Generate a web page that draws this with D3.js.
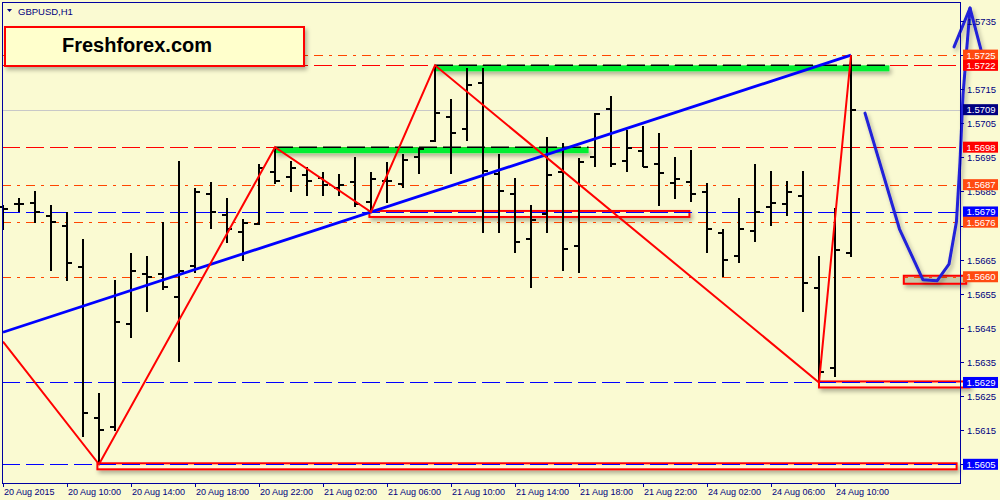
<!DOCTYPE html>
<html>
<head>
<meta charset="utf-8">
<script src="https://cdn.jsdelivr.net/npm/d3@7"></script>
<style>
  body { margin: 0; background: #fafad2; }
  svg { display: block; }
  text { font-family: "Liberation Sans", Arial, sans-serif; }
</style>
</head>
<body>
<script>
// GBPUSD H1 bars, 20 Aug 06:00 .. 24 Aug 11:00 (weekend skipped)
const opens = [1.56805,1.56814,1.56816,1.56778,1.56749,1.56629,1.56186,1.56159,1.56461,1.56608,
  1.56608,1.56541,1.56632,1.56843,1.56781,1.56731,1.56755,1.56907,1.56893,1.56898,
  1.5689,1.5686,1.56878,1.56819,1.56882,1.56872,1.56951,1.56997,1.57069,1.57033,
  1.57168,1.56901,1.56843,1.56711,1.56784,1.56907,1.5669,1.56951,1.57092,1.56939,
  1.56969,1.56931,1.56875,1.56878,1.56849,1.56728,1.56661,1.56734,1.56805,1.56813,
  1.56837,1.56567,1.56332,1.5667];
const highs = [1.5681,1.56831,1.56852,1.5681,1.5679,1.56711,1.56259,1.56591,1.5667,1.56661,
  1.56761,1.56939,1.5686,1.56878,1.56831,1.56769,1.56931,1.5698,1.56939,1.56922,
  1.56907,1.56901,1.56951,1.56907,1.56937,1.5696,1.56978,1.5722,1.57121,1.57212,
  1.57212,1.5696,1.5689,1.5681,1.5701,1.56992,1.56948,1.5708,1.5713,1.5703,
  1.57042,1.57022,1.56951,1.56972,1.56875,1.5674,1.56831,1.56931,1.5691,1.56881,
  1.5691,1.56661,1.56802,1.5725];
const lows = [1.56737,1.5679,1.56758,1.56617,1.56588,1.5613,1.5605,1.56148,1.5642,1.56497,
  1.56561,1.5635,1.56611,1.5674,1.56699,1.56646,1.56752,1.56872,1.56849,1.56837,
  1.56837,1.56837,1.56805,1.5679,1.56816,1.5686,1.56901,1.56996,1.56901,1.56998,
  1.56728,1.56728,1.5667,1.56567,1.56728,1.56617,1.56611,1.56922,1.56922,1.56907,
  1.56922,1.56808,1.56828,1.56819,1.5667,1.56599,1.5664,1.56702,1.56749,1.56778,
  1.56497,1.5629,1.56306,1.56658];
const closes = [1.56799,1.56812,1.5679,1.56761,1.5664,1.562,1.56151,1.56467,1.56617,1.56599,
  1.5657,1.56617,1.56849,1.5679,1.5674,1.56758,1.56919,1.56881,1.56919,1.56881,
  1.56869,1.56869,1.56813,1.56887,1.5688,1.56942,1.56976,1.5708,1.57022,1.57162,
  1.5691,1.56852,1.56702,1.56766,1.56898,1.56681,1.56937,1.57078,1.56931,1.56978,
  1.56923,1.56904,1.56887,1.56843,1.5674,1.56649,1.5674,1.5679,1.56816,1.56849,
  1.56582,1.56321,1.56678,1.5709];

const priceTicks = [1.5735,1.5725,1.5715,1.5705,1.5695,1.5685,1.5675,1.5665,1.5655,1.5645,1.5635,1.5625,1.5615,1.5605];
const timeTickIdx = [0,4,8,12,16,20,24,28,32,36,40,44,48,52];
const timeTickLabels = ["20 Aug 2015","20 Aug 10:00","20 Aug 14:00","20 Aug 18:00","20 Aug 22:00",
  "21 Aug 02:00","21 Aug 06:00","21 Aug 10:00","21 Aug 14:00","21 Aug 18:00","21 Aug 22:00",
  "24 Aug 02:00","24 Aug 06:00","24 Aug 10:00"];

// horizontal levels and their kind
const levelPrices = [1.5725,1.5722,1.5709,1.5698,1.5687,1.5679,1.5676,1.5660,1.5629,1.5605];
const levelKinds = ["dashdot","dash","current","dash","dashdot","support","dashdot","dashdot","support","support"];

// zigzag pivots (bar index, price)
const zigzagIdx = [0, 6, 17, 23, 27, 51, 53];
const zigzagPrice = [1.5641, 1.5605, 1.5698, 1.5679, 1.5722, 1.5629, 1.5725];

// trend line anchors
const trendIdx = [23, 53];
const trendPrice = [1.5679, 1.5725];

// green resistance zones
const greenFrom = [17, 27];
const greenTo = [36.6, 55.4];
const greenPrice = [1.5698, 1.5722];

// red support boxes
const boxFrom = [22.9, 5.9, 51, 56.3];
const boxTo = [42.9, 59.6, 60.4, 60.2];
const boxPrice = [1.5679, 1.5605, 1.5629, 1.5660];

// hand drawn forecast path
const projIdx = [53.875, 56.03, 57.5, 58.375, 59.125, 59.59, 59.81, 60.0, 60.44];
const projPrice = [1.5708, 1.5674, 1.56591, 1.56588, 1.56637, 1.56761, 1.56934, 1.57133, 1.57388];
const arrowIdx = [59.44, 60.44, 61.125];
const arrowPrice = [1.57274, 1.57388, 1.57265];

const styles = {
  dash:    {line: "#ff0000", box: "#ff0000", dash: "18,6"},
  dashdot: {line: "#ff4500", box: "#ff4a10", dash: "9,6,3,6"},
  current: {line: "#c8c8c8", box: "#000080", dash: null},
  support: {line: "#0000ff", box: "#0000ff", dash: "18,6"}
};
const boxFill = ["#fafad2", "#fafad2", "#fafad2", "#c8c8a6"];

let svg = null, x = null, y = null;
const plot = {left: 2, right: 960, top: 2, bottom: 483};

setupScales();
appendSvg("body");
appendDefs();
appendRedBoxes();
appendLevels();
appendGreenZones();
appendBars();
appendTrendLine();
appendZigzag();
appendProjection();
appendFrame();
appendPriceAxis();
appendTimeAxis();
appendLevelLabels();
appendLogo();

function setupScales() {
  x = d3.scaleLinear().domain([0, 60]).range([3, 963]);
  y = d3.scaleLinear().domain([1.5605, 1.5735]).range([464.3, 21]);
}

function appendSvg(domElement) {
  svg = d3.select(domElement).append("svg")
    .attr("width", 1000)
    .attr("height", 500);
  svg.append("rect").attr("width", 1000).attr("height", 500).attr("fill", "#fafad2");
}

function appendDefs() {
  const defs = svg.append("defs");
  defs.append("filter").attr("id", "shadow")
    .attr("filterUnits", "userSpaceOnUse")
    .attr("x", 0).attr("y", 0).attr("width", 1000).attr("height", 500)
    .append("feDropShadow")
    .attr("dx", 2).attr("dy", 3).attr("stdDeviation", 2)
    .attr("flood-color", "#000").attr("flood-opacity", 0.3);
}

function appendLevels() {
  levelPrices.forEach((p, i) => {
    const st = styles[levelKinds[i]];
    svg.append("line")
      .attr("x1", plot.left).attr("x2", plot.right)
      .attr("y1", Math.round(y(p)) + 0.5).attr("y2", Math.round(y(p)) + 0.5)
      .attr("stroke", st.line)
      .attr("stroke-width", 1)
      .attr("stroke-dasharray", st.dash);
  });
}

function appendGreenZones() {
  greenPrice.forEach((p, i) => {
    svg.append("rect")
      .attr("x", x(greenFrom[i])).attr("y", y(p))
      .attr("width", x(greenTo[i]) - x(greenFrom[i])).attr("height", 6)
      .attr("fill", "#00ee33")
      .attr("filter", "url(#shadow)");
  });
  greenPrice.forEach((p, i) => {
    svg.append("line")
      .attr("x1", x(greenFrom[i])).attr("x2", x(greenTo[i]))
      .attr("y1", y(p)).attr("y2", y(p))
      .attr("stroke", "#000").attr("stroke-width", 1.5)
      .attr("stroke-dasharray", "18,6");
  });
}

function appendRedBoxes() {
  boxPrice.forEach((p, i) => {
    svg.append("rect")
      .attr("x", x(boxFrom[i])).attr("y", y(p) - 1)
      .attr("width", x(boxTo[i]) - x(boxFrom[i]))
      .attr("height", i === 3 ? 8 : 6)
      .attr("fill", boxFill[i])
      .attr("stroke", "#ff0000").attr("stroke-width", 2)
      .attr("filter", "url(#shadow)");
  });
}

function appendBars() {
  const idx = d3.range(opens.length);
  const g = svg.append("g")
    .attr("stroke", "#000").attr("stroke-width", 2)
    .attr("shape-rendering", "crispEdges");
  g.selectAll(".hl").data(idx).enter().append("line")
    .attr("x1", d => x(d)).attr("x2", d => x(d))
    .attr("y1", d => y(highs[d])).attr("y2", d => y(lows[d]));
  g.selectAll(".op").data(idx).enter().append("line")
    .attr("x1", d => x(d) - 5).attr("x2", d => x(d))
    .attr("y1", d => y(opens[d])).attr("y2", d => y(opens[d]));
  g.selectAll(".cl").data(idx).enter().append("line")
    .attr("x1", d => x(d)).attr("x2", d => x(d) + 5)
    .attr("y1", d => y(closes[d])).attr("y2", d => y(closes[d]));
}

function appendTrendLine() {
  const slope = (trendPrice[1] - trendPrice[0]) / (trendIdx[1] - trendIdx[0]);
  const startPrice = trendPrice[0] - slope * trendIdx[0];
  svg.append("line")
    .attr("x1", x(0)).attr("y1", y(startPrice))
    .attr("x2", x(trendIdx[1])).attr("y2", y(trendPrice[1]))
    .attr("stroke", "#0000ff").attr("stroke-width", 2.8);
}

function appendZigzag() {
  const line = d3.line().x(d => x(zigzagIdx[d])).y(d => y(zigzagPrice[d]));
  svg.append("path")
    .attr("d", line(d3.range(zigzagIdx.length)))
    .attr("fill", "none").attr("stroke", "#ff0000").attr("stroke-width", 2);
}

function appendProjection() {
  const curve = d3.line().x(d => x(projIdx[d])).y(d => y(projPrice[d]));
  const g = svg.append("g").attr("filter", "url(#shadow)");
  g.append("path")
    .attr("d", curve(d3.range(projIdx.length)))
    .attr("fill", "none").attr("stroke", "#2020d8").attr("stroke-width", 3)
    .attr("stroke-linecap", "round").attr("stroke-linejoin", "round");
  const arrow = d3.line().x(d => x(arrowIdx[d])).y(d => y(arrowPrice[d]));
  g.append("path")
    .attr("d", arrow(d3.range(arrowIdx.length)))
    .attr("fill", "none").attr("stroke", "#2020d8").attr("stroke-width", 3)
    .attr("stroke-linecap", "round").attr("stroke-linejoin", "round");
}

function appendFrame() {
  svg.append("rect")
    .attr("x", plot.left + 0.5).attr("y", plot.top + 0.5)
    .attr("width", plot.right - plot.left).attr("height", plot.bottom - plot.top)
    .attr("fill", "none").attr("stroke", "#0000a0").attr("stroke-width", 1);
}

function appendPriceAxis() {
  const g = svg.append("g").attr("class", "axis");
  priceTicks.forEach(p => {
    const yy = Math.round(y(p)) + 0.5;
    g.append("line").attr("x1", plot.right).attr("x2", plot.right + 4)
      .attr("y1", yy).attr("y2", yy).attr("stroke", "#0000a0");
    // labels fully hidden under a level marker are not drawn
    const hidden = levelPrices.some(l => Math.abs(y(l) - y(p)) < 4);
    if (hidden) return;
    g.append("text").attr("x", 967).attr("y", yy + 3.5)
      .attr("font-size", 9.5).attr("fill", "#000080")
      .text(p.toFixed(4));
  });
}

function appendTimeAxis() {
  const g = svg.append("g").attr("class", "axis");
  timeTickIdx.forEach((t, i) => {
    const xx = Math.round(x(t)) + 0.5;
    g.append("line").attr("x1", xx).attr("x2", xx)
      .attr("y1", plot.bottom).attr("y2", plot.bottom + 4).attr("stroke", "#0000a0");
    g.append("text").attr("x", xx + 0.5).attr("y", 494.5)
      .attr("font-size", 9).attr("fill", "#000080")
      .text(timeTickLabels[i]);
  });
}

function appendLevelLabels() {
  levelPrices.forEach((p, i) => {
    const st = styles[levelKinds[i]];
    const yy = y(p);
    svg.append("rect")
      .attr("x", 963).attr("y", yy - 5.5)
      .attr("width", 35).attr("height", 11)
      .attr("fill", st.box);
    svg.append("text")
      .attr("x", 966.5).attr("y", yy + 3.5)
      .attr("font-size", 9.5).attr("fill", "#fff")
      .text(p.toFixed(4));
  });
}

function appendLogo() {
  svg.append("rect")
    .attr("x", 5).attr("y", 27).attr("width", 299).attr("height", 39)
    .attr("fill", "#ffffcc").attr("stroke", "#ff0000").attr("stroke-width", 2)
    .attr("filter", "url(#shadow)");
  svg.append("text")
    .attr("x", 62).attr("y", 52)
    .attr("font-size", 20).attr("font-weight", "bold").attr("fill", "#000")
    .text("Freshforex.com");
  // chart title
  svg.append("path").attr("d", "M7,9 L12,9 L9.5,12 Z").attr("fill", "#000080");
  svg.append("text")
    .attr("x", 18).attr("y", 14.5)
    .attr("font-size", 9.5).attr("fill", "#000080")
    .text("GBPUSD,H1");
}
</script>
</body>
</html>
